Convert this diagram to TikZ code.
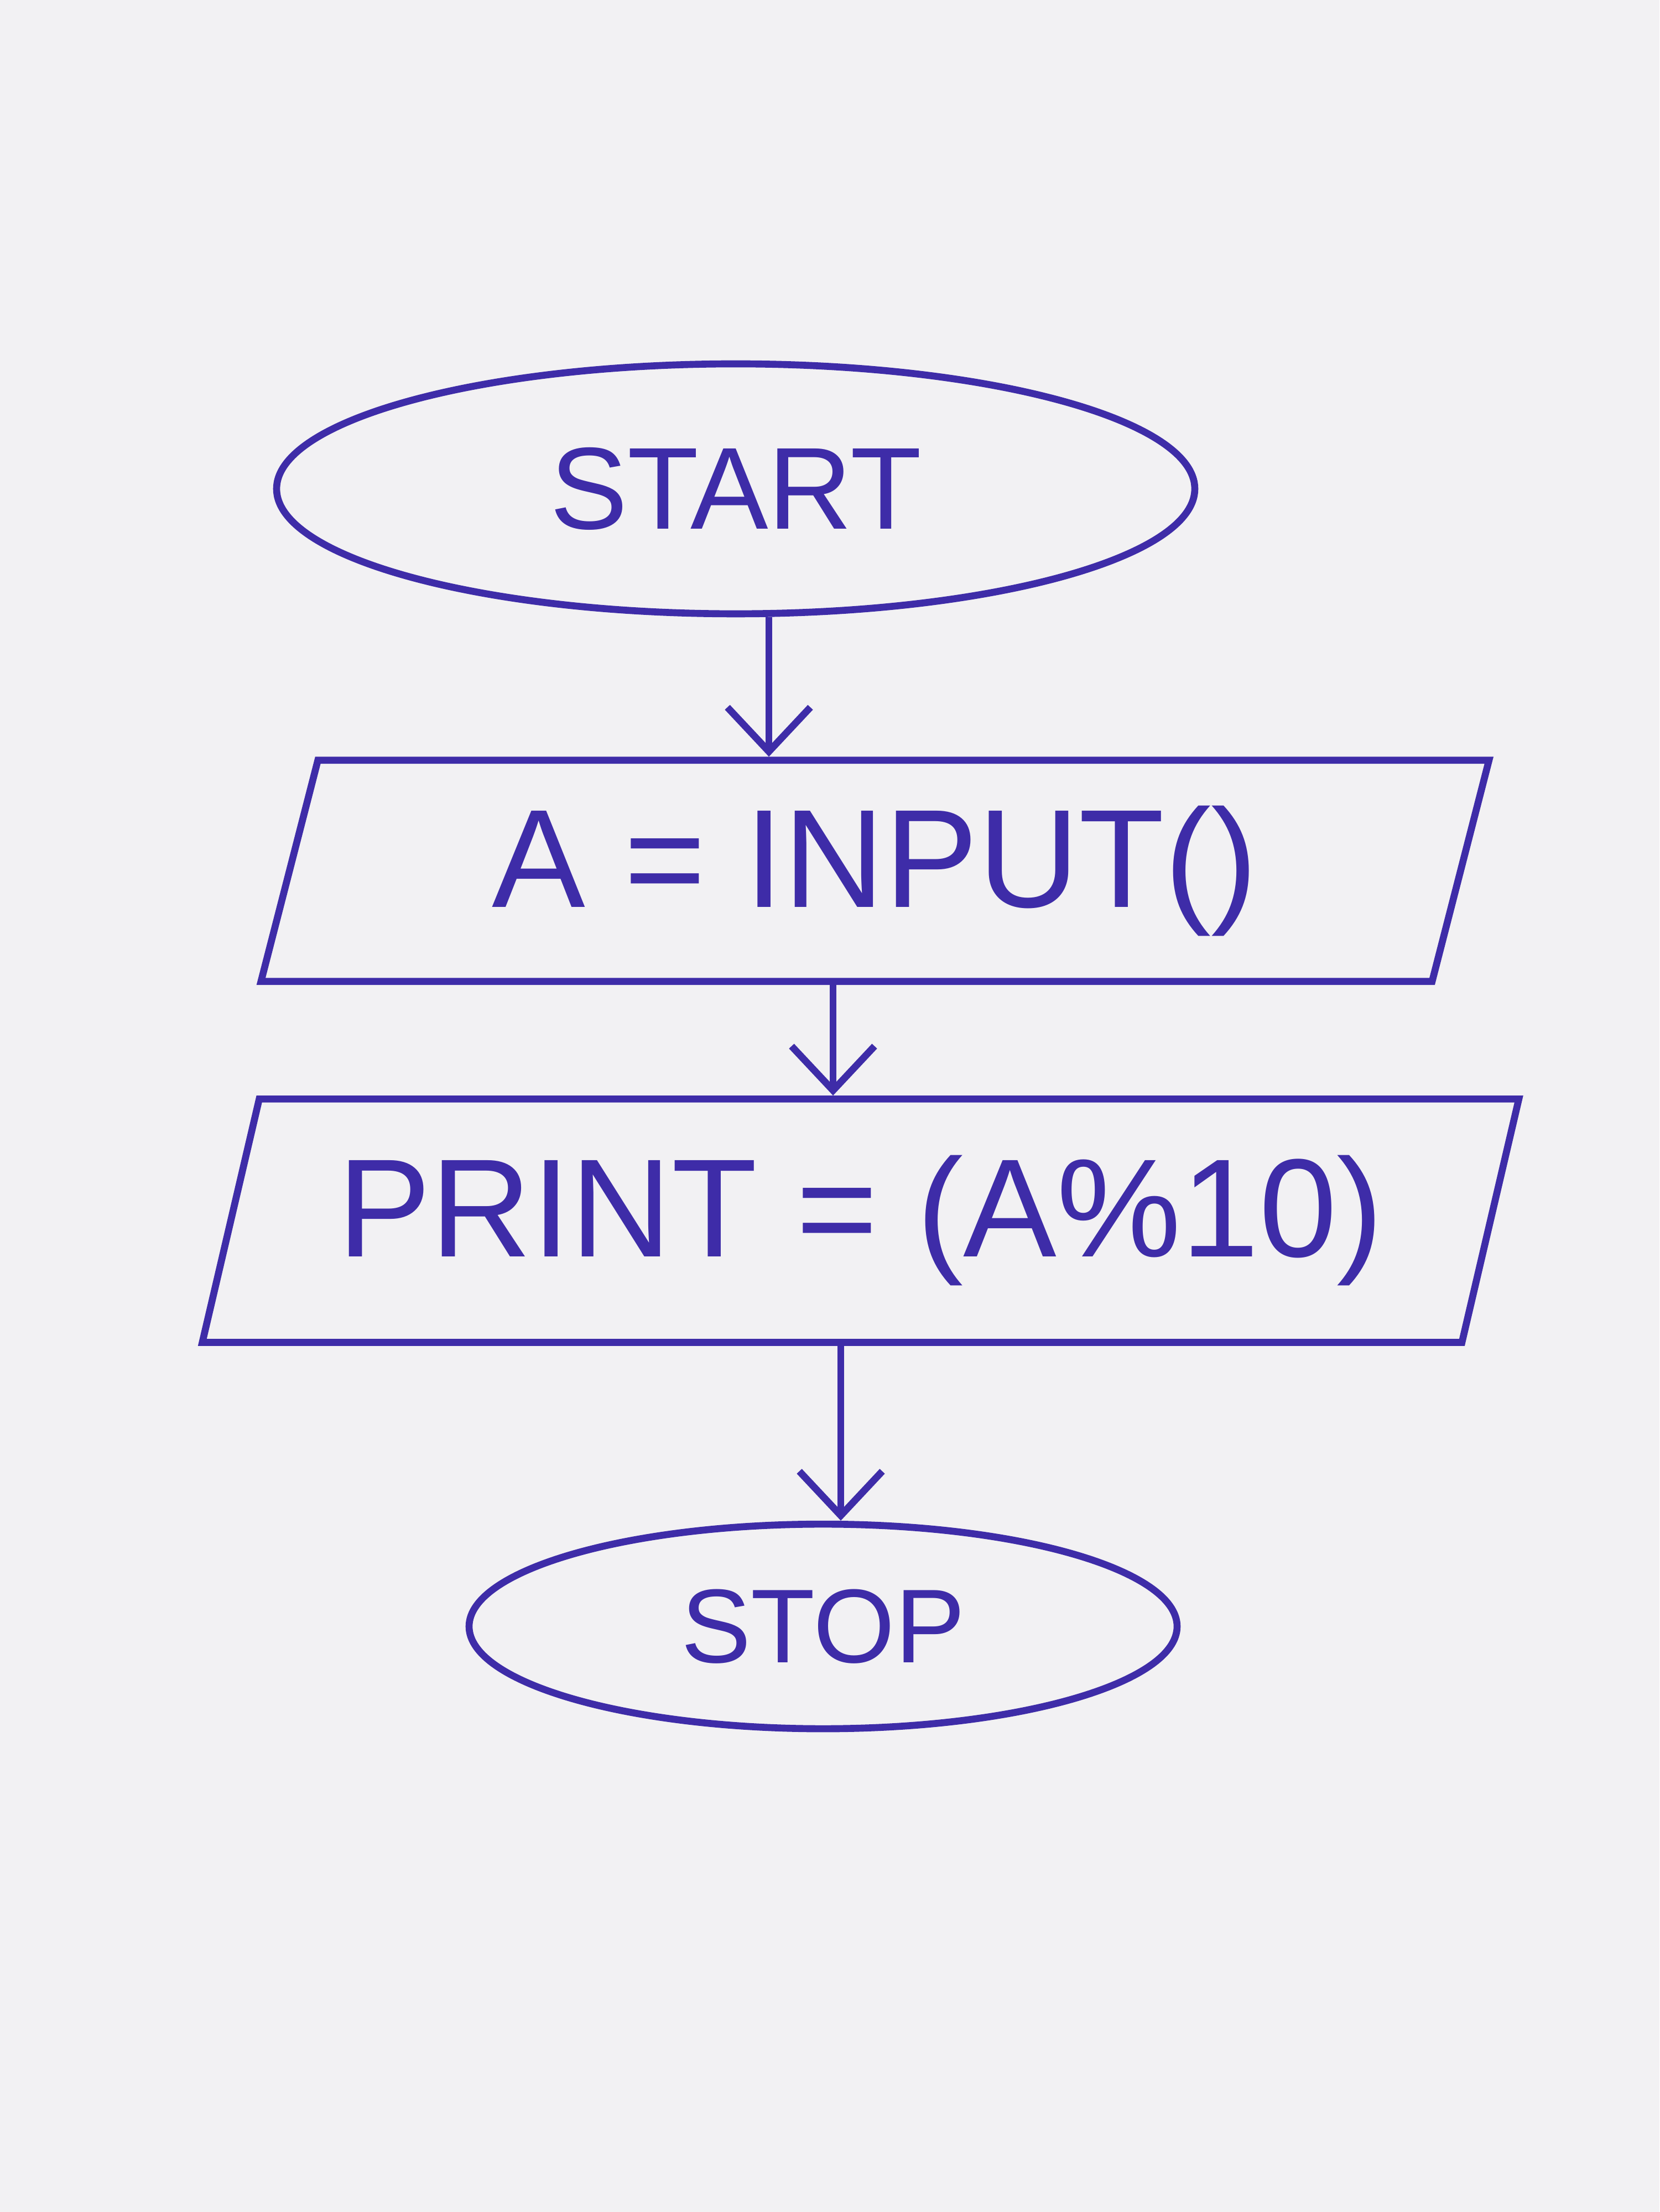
\documentclass[tikz,border=0pt]{standalone}
\usepackage{fontspec}
\setmainfont{Liberation Sans}
\usepackage{tikz}
\definecolor{inkBlue}{RGB}{62, 44, 168}
\definecolor{paperGrey}{RGB}{242, 241, 243}
\usetikzlibrary{shapes.geometric, arrows.meta, positioning}

\begin{document}
\begin{tikzpicture}[
    terminal/.style={ellipse, draw=inkBlue, line width=1.8pt, text=inkBlue, font=\fontsize{30}{36}\selectfont},
    io/.style={trapezium, trapezium left angle=70, trapezium right angle=110, trapezium stretches body, draw=inkBlue, line width=1.8pt, text=inkBlue, font=\fontsize{36}{42}\selectfont},
    arrow/.style={-{Straight Barb[length=4mm, width=7.5mm]}, line width=1.8pt, inkBlue}
]
    \fill[paperGrey] (0,0) rectangle (15,20);
    \useasboundingbox (0,0) rectangle (15,20);

    \node[terminal, minimum width=8.3cm, minimum height=2.26cm] (start) at (6.65,15.58) {START};
    \node[io, minimum width=11.1cm, minimum height=2.0cm, below=1.26cm of start, xshift=1.26cm] (input) {A = INPUT()};
    \node[io, minimum width=11.9cm, minimum height=2.2cm, below=1.0cm of input, xshift=-0.13cm] (print) {PRINT = (A\%10)};
    \node[terminal, minimum width=6.4cm, minimum height=1.85cm, below=1.58cm of print, xshift=-0.34cm, font=\fontsize{27}{32}\selectfont] (stop) {STOP};

    \draw[arrow] (start.south -| 6.95,0) -- (input.north -| 6.95,0);
    \draw[arrow] (input.south -| 7.53,0) -- (print.north -| 7.53,0);
    \draw[arrow] (print.south -| 7.6,0) -- (stop.north -| 7.6,0);
\end{tikzpicture}
\end{document}
